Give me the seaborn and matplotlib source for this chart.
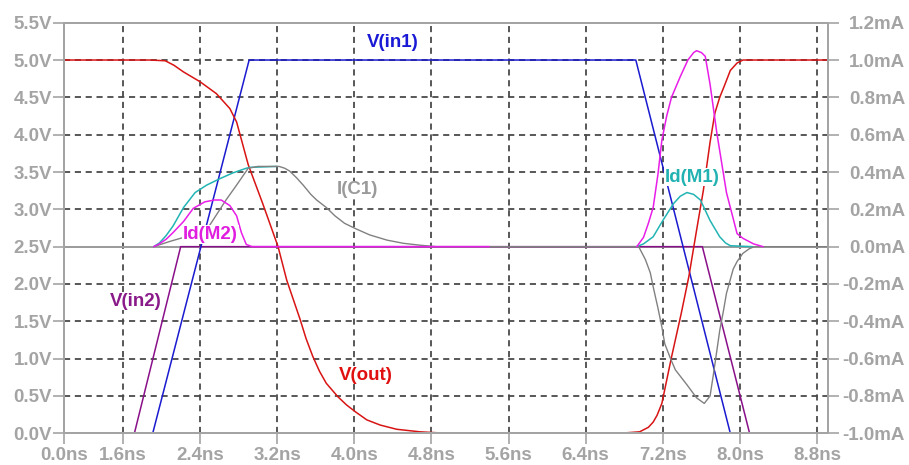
import numpy as np
import pandas as pd
import matplotlib
matplotlib.use("Agg")
import matplotlib.pyplot as plt
import seaborn as sns

# ---------------- data ----------------
# time axis tick positions (ns) and their printed labels
x_tick_pos = [0.99, 1.6, 2.4, 3.2, 4.0, 4.8, 5.6, 6.4, 7.2, 8.0, 8.8]
x_tick_labels = ["0.0ns", "1.6ns", "2.4ns", "3.2ns", "4.0ns", "4.8ns",
                 "5.6ns", "6.4ns", "7.2ns", "8.0ns", "8.8ns"]
v_ticks = [0.0, 0.5, 1.0, 1.5, 2.0, 2.5, 3.0, 3.5, 4.0, 4.5, 5.0, 5.5]
v_tick_labels = ["0.0V", "0.5V", "1.0V", "1.5V", "2.0V", "2.5V",
                 "3.0V", "3.5V", "4.0V", "4.5V", "5.0V", "5.5V"]
i_ticks = [-1.0, -0.8, -0.6, -0.4, -0.2, 0.0, 0.2, 0.4, 0.6, 0.8, 1.0, 1.2]
i_tick_labels = ["-1.0mA", "-0.8mA", "-0.6mA", "-0.4mA", "-0.2mA", "0.0mA",
                 "0.2mA", "0.4mA", "0.6mA", "0.8mA", "1.0mA", "1.2mA"]

# V(in1)
t_in1 = [0.99, 1.91, 2.91, 6.92, 7.90, 8.91]
v_in1 = [0.0, 0.0, 5.0, 5.0, 0.0, 0.0]
# V(in2)
t_in2 = [0.99, 1.72, 2.20, 7.61, 8.10, 8.91]
v_in2 = [0.0, 0.0, 2.5, 2.5, 0.0, 0.0]
# V(out)
t_out = [0.99, 1.88, 2.04, 2.13, 2.23, 2.40, 2.57, 2.71, 2.78, 2.90, 3.05,
         3.21, 3.30, 3.44, 3.50, 3.57, 3.64, 3.71, 3.83, 3.92, 4.01, 4.13,
         4.27, 4.44, 4.68, 4.85, 5.06, 6.75, 6.96, 7.05, 7.10, 7.14, 7.19,
         7.29, 7.39, 7.47, 7.55, 7.62, 7.69, 7.74, 7.79, 7.84, 7.90, 7.97,
         8.03, 8.91]
v_out = [5.0, 5.0, 4.99, 4.93, 4.84, 4.71, 4.55, 4.35, 4.17, 3.60, 3.08,
         2.50, 2.05, 1.52, 1.27, 1.03, 0.83, 0.67, 0.49, 0.38, 0.29, 0.18,
         0.11, 0.054, 0.02, 0.008, 0.0, 0.0, 0.02, 0.08, 0.15, 0.24, 0.40,
         1.02, 1.60, 2.10, 2.72, 3.25, 3.90, 4.29, 4.50, 4.66, 4.86, 4.96,
         5.0, 5.0]

# Id(M1) in mA, two pulses
t_m1_a = [1.92, 1.98, 2.05, 2.12, 2.23, 2.35, 2.47, 2.61, 2.74, 2.88, 2.92, 3.20]
i_m1_a = [0.0, 0.02, 0.06, 0.11, 0.21, 0.29, 0.33, 0.365, 0.395, 0.42, 0.425, 0.43]
t_m1_b = [6.93, 7.00, 7.10, 7.20, 7.31, 7.38, 7.45, 7.52, 7.59, 7.69, 7.79,
          7.85, 7.90, 8.13]
i_m1_b = [0.0, 0.015, 0.053, 0.14, 0.23, 0.27, 0.29, 0.28, 0.25, 0.14, 0.053,
          0.02, 0.005, 0.0]

# Id(M2) in mA, two pulses
t_m2_a = [1.92, 1.97, 2.05, 2.12, 2.23, 2.33, 2.45, 2.55, 2.62, 2.71, 2.78,
          2.83, 2.88, 2.94, 5.40]
i_m2_a = [0.0, 0.012, 0.04, 0.075, 0.135, 0.205, 0.24, 0.25, 0.25, 0.22,
          0.165, 0.075, 0.012, 0.0, 0.0]
t_m2_b = [6.93, 7.00, 7.05, 7.10, 7.15, 7.19, 7.24, 7.29, 7.38, 7.46, 7.52,
          7.55, 7.60, 7.64, 7.69, 7.76, 7.86, 7.90, 7.97, 8.03, 8.14, 8.24]
i_m2_b = [0.0, 0.05, 0.125, 0.21, 0.39, 0.57, 0.70, 0.80, 0.91, 1.0, 1.04,
          1.05, 1.04, 1.02, 0.87, 0.61, 0.29, 0.21, 0.07, 0.045, 0.015, 0.0]

# I(C1) in mA
t_c1 = [1.92, 2.10, 2.30, 2.47, 2.57, 2.67, 2.78, 2.90, 3.00, 3.22, 3.28,
        3.33, 3.40, 3.47, 3.55, 3.61, 3.71, 3.80, 3.90, 4.02, 4.16, 4.34,
        4.51, 4.68, 4.85, 6.90, 6.95, 7.02, 7.07, 7.10, 7.15, 7.19, 7.22,
        7.28, 7.33, 7.45, 7.55, 7.63, 7.69, 7.72, 7.74, 7.79, 7.83, 7.86,
        7.93, 7.97, 8.03, 8.10, 8.15, 8.91]
i_c1 = [0.0, 0.03, 0.06, 0.09, 0.17, 0.25, 0.33, 0.42, 0.43, 0.43, 0.42,
        0.405, 0.37, 0.33, 0.28, 0.25, 0.21, 0.165, 0.125, 0.095, 0.063, 0.035,
        0.018, 0.008, 0.0, 0.0, 0.0, -0.07, -0.14, -0.215, -0.33, -0.43, -0.52,
        -0.60, -0.66, -0.74, -0.81, -0.84, -0.80, -0.70, -0.63, -0.45, -0.34,
        -0.25, -0.12, -0.08, -0.036, -0.01, 0.0, 0.0]

# trace labels: (text, x in ns, y in V, colour)
trace_labels = [("V(in1)", 4.40, 5.24, "#1a1ad6"),
                ("I(C1)", 4.03, 3.26, "#9a9a9a"),
                ("Id(M2)", 2.51, 2.66, "#e01ee0"),
                ("V(in2)", 1.73, 1.77, "#8a1a8a"),
                ("V(out)", 4.12, 0.78, "#e01010"),
                ("Id(M1)", 7.50, 3.43, "#22b2b2")]

# ---------------- styling ----------------
sns.set_style("white")
plt.rcParams["font.family"] = ["Liberation Sans", "DejaVu Sans"]

GRAY = "#a4a4a4"
GRID = "#4a4a4a"
C_RED = "#d81414"
C_BLUE = "#1a1ad0"
C_PURPLE = "#8a108a"
C_MAG = "#e81ee8"
C_CYAN = "#22b4b4"
C_GRAYTR = "#808080"
LW = 1.1

fig = plt.figure(figsize=(9.09, 4.65), dpi=100)
ax = fig.add_axes([64 / 909, 1 - 433.3 / 465, (828 - 64) / 909, (433.3 - 22.7) / 465])
ax2 = ax.twinx()

ax.set_xlim(0.99, 8.913)
ax.set_ylim(0.0, 5.5)
ax2.set_ylim(-1.0, 1.2)

# grid
for xv in x_tick_pos[1:]:
    ax.axvline(xv, color=GRID, lw=1.3, ls=(0, (3.4, 2.6)), zorder=0.5)
for yv in v_ticks[1:-1]:
    if yv == 2.5:
        ax.axhline(yv, color="#9a9a9a", lw=1.4, zorder=0.6)
    else:
        ax.axhline(yv, color=GRID, lw=1.3, ls=(0, (3.4, 2.6)), zorder=0.5)

# voltage traces
sns.lineplot(x=t_in2, y=v_in2, ax=ax, color=C_PURPLE, lw=LW, estimator=None, sort=False)
sns.lineplot(x=t_in1, y=v_in1, ax=ax, color=C_BLUE, lw=LW, estimator=None, sort=False)
sns.lineplot(x=t_out, y=v_out, ax=ax, color=C_RED, lw=LW, estimator=None, sort=False)

# current traces
sns.lineplot(x=t_m1_a, y=i_m1_a, ax=ax2, color=C_CYAN, lw=LW, estimator=None, sort=False)
sns.lineplot(x=t_m1_b, y=i_m1_b, ax=ax2, color=C_CYAN, lw=LW, estimator=None, sort=False)
sns.lineplot(x=t_c1, y=i_c1, ax=ax2, color=C_GRAYTR, lw=LW * 0.9, estimator=None, sort=False)
sns.lineplot(x=t_m2_a, y=i_m2_a, ax=ax2, color=C_MAG, lw=LW, estimator=None, sort=False)
sns.lineplot(x=t_m2_b, y=i_m2_b, ax=ax2, color=C_MAG, lw=LW, estimator=None, sort=False)

# trace labels
for txt, xv, yv, col in trace_labels:
    ax2.text(xv, yv, txt, transform=ax.transData, color=col, fontsize=13.5,
             fontweight="bold", ha="center", va="center", zorder=10,
             bbox=dict(facecolor="white", edgecolor="none", pad=0.5))

# ticks
ax.set_xticks(x_tick_pos)
ax.set_xticklabels(x_tick_labels)
ax.set_yticks(v_ticks)
ax.set_yticklabels(v_tick_labels)
ax2.set_yticks(i_ticks)
ax2.set_yticklabels(i_tick_labels)
ax.set_xlabel("")
ax.set_ylabel("")
ax2.set_ylabel("")

for a in (ax, ax2):
    a.tick_params(axis="both", length=8, width=1.2, color=GRAY,
                  labelcolor=GRAY, labelsize=13.5)
    for s in a.spines.values():
        s.set_color(GRAY)
        s.set_linewidth(1.3)
ax.tick_params(axis="x", pad=2, bottom=True)
ax.tick_params(axis="y", pad=0.5, left=True)
ax2.tick_params(axis="y", right=True, pad=47.5)
for lab in ax2.get_yticklabels():
    lab.set_horizontalalignment("right")
for lab in ax.get_xticklabels() + ax.get_yticklabels() + ax2.get_yticklabels():
    lab.set_fontweight("bold")

ax.grid(False)
ax2.grid(False)

fig.savefig("out.png", dpi=100, facecolor="white")
